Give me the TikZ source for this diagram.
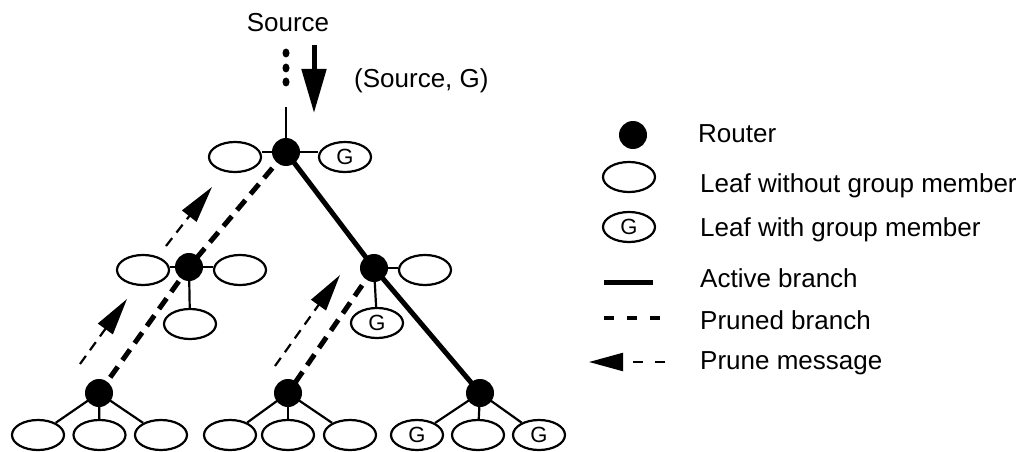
\documentclass[tikz,border=0pt]{standalone}
\usepackage{fontspec}
\setmainfont{Liberation Sans}
\usetikzlibrary{shapes.geometric,arrows.meta}
\begin{document}
\begin{tikzpicture}[x=1pt,y=-1pt,
  router/.style={circle,fill=black,inner sep=0pt,minimum size=28pt},
  leaf/.style={ellipse,draw,line width=2.2pt,inner sep=0pt,minimum width=52pt,minimum height=30pt,font=\fontsize{22}{22}\selectfont},
  link/.style={line width=2.2pt},
  active/.style={line width=5pt},
  pruned/.style={line width=5pt,dash pattern=on 13pt off 8pt},
  prunemsg/.style={line width=2.2pt,dash pattern=on 10pt off 7pt,-{Triangle[length=37pt,width=18pt]}},
  lbl/.style={font=\fontsize{26}{26}\selectfont,inner sep=0pt,anchor=base west},
  dotmark/.style={ellipse,fill=black,inner sep=0pt,minimum width=7pt,minimum height=9pt}
]
\useasboundingbox (0,0) rectangle (1031,452);

% ---------- source ----------
\node[lbl,anchor=base] (src) at (288,32) {Source};
\node[lbl] (sg) at (354,88) {(Source, G)};
\node[dotmark] (d1) at (286,53) {};
\node[dotmark] (d2) at (286,68) {};
\node[dotmark] (d3) at (286,82) {};
\coordinate (atail) at (314,45);
\coordinate (ahead) at (314,113);
\draw[line width=5pt,-{Triangle[length=44pt,width=24pt]}] (atail) -- (ahead);
\coordinate (up) at (286,107);

% ---------- routers ----------
\coordinate (R0) at (286,152);
\coordinate (R1) at (189,267);
\coordinate (R2) at (374,268);
\coordinate (R3) at (99,393);
\coordinate (R4) at (288,393);
\coordinate (R5) at (480,393);

% ---------- leaves ----------
\node[leaf] (L0a) at (235,157) {};
\node[leaf] (L0b) at (345,157) {G};
\node[leaf] (L1a) at (143,270) {};
\node[leaf] (L1b) at (240,270) {};
\node[leaf] (L1c) at (190,324) {};
\node[leaf] (L2a) at (425,270) {};
\node[leaf] (L2b) at (377,323) {G};
\node[leaf] (L3a) at (38,435) {};
\node[leaf] (L3b) at (99.5,435) {};
\node[leaf] (L3c) at (161,435) {};
\node[leaf] (L4a) at (230,435) {};
\node[leaf] (L4b) at (288,435) {};
\node[leaf] (L4c) at (350,435) {};
\node[leaf] (L5a) at (417,435) {G};
\node[leaf] (L5b) at (478,435) {};
\node[leaf] (L5c) at (539,435) {G};

% ---------- links ----------
\draw[link] (R0) -- (up);
\draw[link] (R0) -- (R0 -| L0a.east);
\draw[link] (R0) -- (R0 -| L0b.west);
\draw[link] (R1) -- (R1 -| L1a.east);
\draw[link] (R1) -- (R1 -| L1b.west);
\draw[link] (R1) -- (L1c);
\draw[link] (R2) -- (R2 -| L2a.west);
\draw[link] (R2) -- (L2b);
\foreach \r/\a/\b/\c in {R3/L3a/L3b/L3c,R4/L4a/L4b/L4c,R5/L5a/L5b/L5c}{
  \draw[link] (\r) -- (\a);
  \draw[link] (\r) -- (\b);
  \draw[link] (\r) -- (\c);
}

% ---------- branches ----------
\draw[active] (R0) -- (R2) -- (R5);
\draw[pruned] (R0) -- (R1) -- (R3);
\draw[pruned] (R2) -- (R4);

\foreach \r in {R0,R1,R2,R3,R4,R5}{
  \node[router] (n\r) at (\r) {};
}

% ---------- prune messages ----------
\coordinate (p1s) at (80,364);
\coordinate (p1e) at (127,299);
\coordinate (p2s) at (166,246);
\coordinate (p2e) at (212,187);
\coordinate (p3s) at (275,366);
\coordinate (p3e) at (340,275);
\draw[prunemsg] (p1s) -- (p1e);
\draw[prunemsg] (p2s) -- (p2e);
\draw[prunemsg] (p3s) -- (p3e);

% ---------- legend ----------
\node[router] (kr) at (633,135) {};
\node[leaf] (kl) at (629,177) {};
\node[leaf] (kg) at (629,227) {G};
\coordinate (ka1) at (604,282);
\coordinate (ka2) at (653,282);
\draw[active] (ka1) -- (ka2);
\coordinate (kp1) at (604,318);
\coordinate (kp2) at (660,318);
\draw[line width=3.5pt,dash pattern=on 10pt off 13pt] (kp1) -- (kp2);
\coordinate (km1) at (665,362);
\coordinate (km2) at (589,362);
\draw[line width=2.2pt,dash pattern=on 10pt off 12pt,-{Triangle[length=34pt,width=18pt]}] (km1) -- (km2);

\node[lbl] (t1) at (698,142) {Router};
\node[lbl] (t2) at (700,192) {Leaf without group member};
\node[lbl] (t3) at (700,236) {Leaf with group member};
\node[lbl] (t4) at (700,287) {Active branch};
\node[lbl] (t5) at (700,329) {Pruned branch};
\node[lbl] (t6) at (700,369) {Prune message};
\end{tikzpicture}
\end{document}
